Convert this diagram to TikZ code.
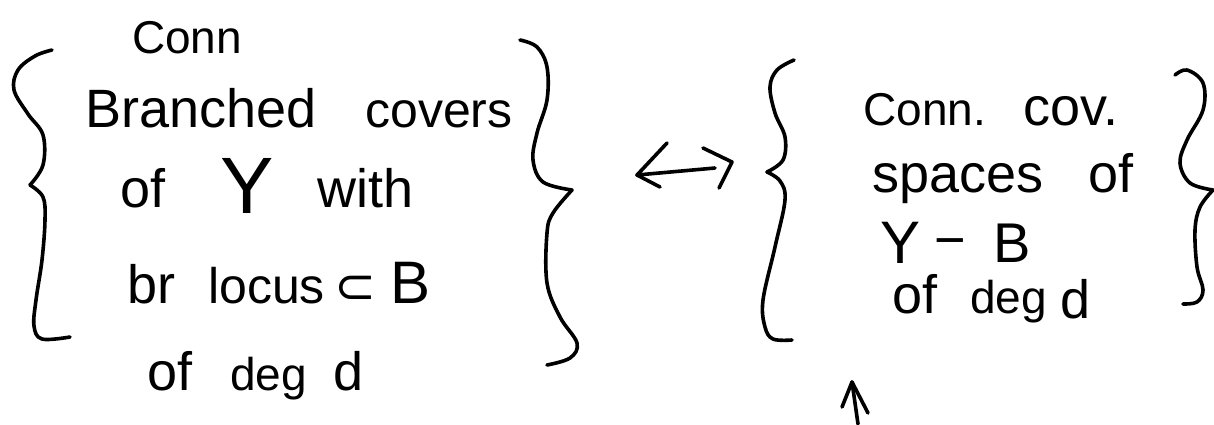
\documentclass[tikz,border=0pt]{standalone}
\usepackage{fontspec}
\setmainfont{Liberation Sans}
\newfontfamily\djv{DejaVu Sans}
\begin{document}
\begin{tikzpicture}[x=1pt,y=-1pt,
  ink/.style={line width=3.6pt,line cap=round,line join=round},
  txt/.style={anchor=base west,inner sep=0pt,font=\fontsize{54}{60}\selectfont},
  sml/.style={anchor=base west,inner sep=0pt,font=\fontsize{46}{50}\selectfont}]
\useasboundingbox (0,0) rectangle (1214,424);
% ---------- left set ----------
\node[sml] (c1) at (132,53) {Conn};
\node[txt] (b1) at (85,127) {Branched};
\node[txt,font=\fontsize{50}{56}\selectfont] (b2) at (365,127) {covers};
\node[txt] (o1) at (120,207) {of};
\node[txt,font=\fontsize{80}{86}\selectfont] (y1) at (220,213) {Y};
\node[txt] (w1) at (317,207) {with};
\node[txt] (r1) at (127,303) {br};
\node[txt,font=\fontsize{50}{56}\selectfont] (l1) at (208,303) {locus};
\node[txt,font=\fontsize{50}{56}\selectfont\djv] (s1) at (334,303) {⊂};
\node[txt,font=\fontsize{60}{66}\selectfont] (bb1) at (390,303) {B};
\node[txt] (o2) at (147,390) {of};
\node[txt,font=\fontsize{46}{50}\selectfont] (dg1) at (230,390) {deg};
\node[txt] (dd1) at (333,390) {d};
% ---------- right set ----------
\node[sml] (c2) at (863,125) {Conn.};
\node[txt] (cv2) at (1023,125) {cov.};
\node[txt] (sp2) at (872,192) {spaces};
\node[txt] (o3) at (1088,192) {of};
\node[txt,font=\fontsize{60}{66}\selectfont] (y2) at (880,263) {Y};
\node[txt,font=\fontsize{54}{60}\selectfont] (mi2) at (934,258) {−};
\node[txt,font=\fontsize{56}{60}\selectfont] (bb2) at (993,262) {B};
\node[txt] (o4) at (892,313) {of};
\node[txt,font=\fontsize{46}{50}\selectfont] (dg2) at (970,313) {deg};
\node[txt] (dd2) at (1060,318) {d};
% ---------- braces ----------
\draw[ink] plot[smooth,tension=0.6] coordinates {(52,50) (35,56) (18,70) (14,90) (28,114) (43,135) (43,165) (30,185)};
\draw[ink] plot[smooth,tension=0.6] coordinates {(30,185) (43,197) (45,220) (42,260) (36,300) (34,326) (42,339) (70,337)};
\draw[ink] plot[smooth,tension=0.6] coordinates {(520,40) (537,47) (547,67) (547,100) (537,133) (533,160) (543,182) (572,190)};
\draw[ink] plot[smooth,tension=0.6] coordinates {(572,190) (553,213) (547,233) (547,283) (560,317) (577,343) (570,358) (547,365)};
\draw[ink] plot[smooth,tension=0.6] coordinates {(794,60) (777,70) (770,87) (775,113) (785,137) (783,160) (767,172)};
\draw[ink] plot[smooth,tension=0.6] coordinates {(767,172) (780,181) (785,200) (775,247) (763,300) (765,327) (773,339) (792,340)};
\draw[ink] plot[smooth,tension=0.6] coordinates {(1175,75) (1187,70) (1203,83) (1203,110) (1187,140) (1180,163) (1190,183) (1213,190)};
\draw[ink] plot[smooth,tension=0.6] coordinates {(1213,190) (1200,207) (1195,230) (1197,267) (1203,290) (1197,302) (1183,304)};
% ---------- double arrow ----------
\coordinate (aL) at (637,175);
\coordinate (aR) at (732,162);
\coordinate (aS) at (715,168);
\draw[ink] (aL) -- (aS);
\draw[ink] (667,143) -- (aL) -- (660,187);
\draw[ink] (703,148) -- (aR) -- (719,188);
% ---------- bottom arrow ----------
\coordinate (uT) at (852,382);
\coordinate (uB) at (858,424);
\draw[ink] (uB) -- (uT);
\draw[ink] (842,407) -- (uT) -- (868,413);
\end{tikzpicture}
\end{document}
